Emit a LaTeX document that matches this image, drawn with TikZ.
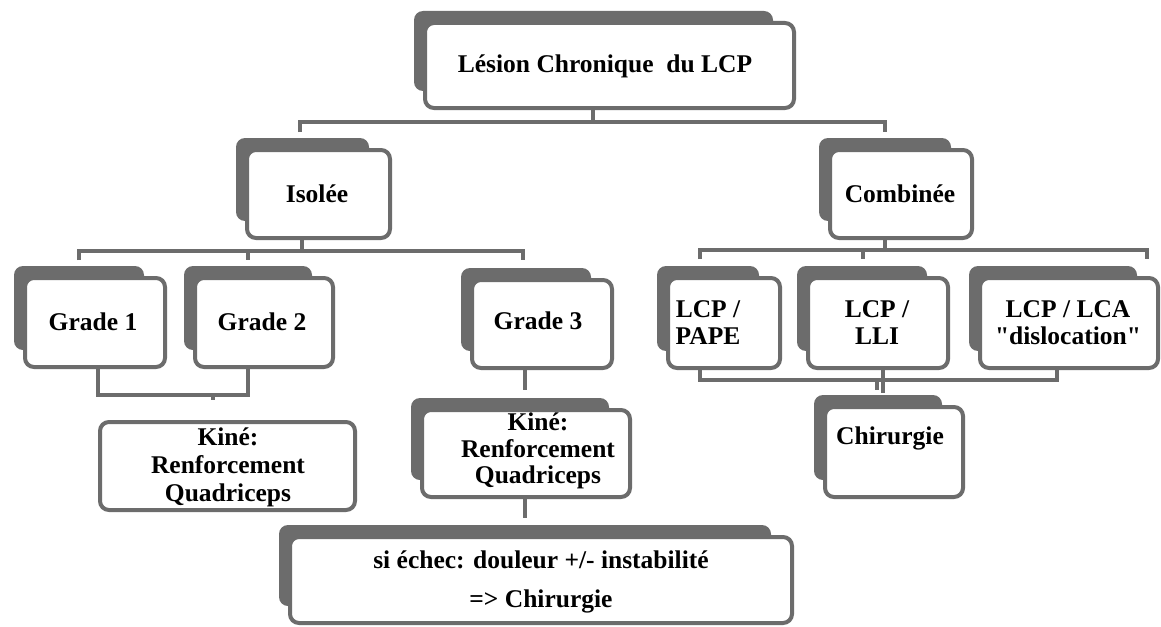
\documentclass[tikz,border=0pt]{standalone}
\usepackage{fontspec}
\setmainfont{Liberation Serif}[Ligatures=TeXOff]
\definecolor{bord}{RGB}{108,108,108}
\tikzset{
  frontbox/.style={draw=bord, line width=4pt, fill=white, rounded corners=9pt, inner sep=0pt, outer sep=0pt},
  backbox/.style={fill=bord, rounded corners=9pt},
  conn/.style={draw=bord, line width=4pt},
  lbl/.style={font=\bfseries\fontsize{25.5}{30}\selectfont, text=black, inner sep=0pt, anchor=base},
}
\newcommand{\mkbox}[5]{%
  \fill[backbox] (#2-11,#3-12) rectangle (#4-21,#5-17);
  \node[frontbox, minimum width={(#4-#2)*1pt}, minimum height={(#5-#3)*1pt}] (#1) at ({(#2+#4)/2},{(#3+#5)/2}) {};
}
\newcommand{\mkplain}[5]{%
  \node[frontbox, minimum width={(#4-#2)*1pt}, minimum height={(#5-#3)*1pt}] (#1) at ({(#2+#4)/2},{(#3+#5)/2}) {};
}
\begin{document}
\begin{tikzpicture}[x=1pt, y=-1pt]
\fill[white] (0,0) rectangle (1161,626);
\useasboundingbox (0,0) rectangle (1161,626);

% boxes
\mkbox{top}{425}{23}{794}{108}
\mkbox{iso}{247}{150}{390}{238}
\mkbox{comb}{830}{150}{972}{238}
\mkbox{gA}{25}{278}{165}{367}
\mkbox{gB}{195}{278}{333}{367}
\mkbox{gC}{472}{280}{612}{368}
\mkbox{pape}{668}{278}{780}{368}
\mkbox{lli}{808}{278}{948}{368}
\mkbox{lca}{980}{278}{1158}{368}
\mkplain{kineA}{100}{422}{355}{510}
\mkbox{kineB}{422}{410}{630}{497}
\mkbox{chir}{825}{407}{963}{497}
\mkbox{bot}{290}{537}{792}{623}

% connectors
\draw[conn] (593,0 |- top.south) -- (593,122);
\draw[conn] (300,132) -- (300,122) -- (885,122) -- (885,132);

\draw[conn] (302,0 |- iso.south) -- (302,251);
\draw[conn] (79,260) -- (79,251) -- (523,251) -- (523,260);
\draw[conn] (248,251) -- (248,260);

\draw[conn] (885,0 |- comb.south) -- (885,250);
\draw[conn] (700,259) -- (700,250) -- (1147,250) -- (1147,259);
\draw[conn] (863,250) -- (863,259);

\draw[conn] (98,0 |- gA.south) -- (98,395) -- (248,395) -- (248,0 |- gB.south);
\draw[conn] (213,395) -- (213,400);

\draw[conn] (525,0 |- gC.south) -- (525,390);
\draw[conn] (525,0 |- kineB.south) -- (525,518);

\draw[conn] (700,0 |- pape.south) -- (700,380) -- (1057,380) -- (1057,0 |- lca.south);
\draw[conn] (883,0 |- lli.south) -- (883,393);
\draw[conn] (877,380) -- (877,390);

% texts
\node[lbl] (topT) at (605,72) {Lésion Chronique\ \ du LCP};
\node[lbl] (isoT) at (317,202) {Isolée};
\node[lbl] (combT) at (900,202) {Combinée};
\node[lbl] (gAT) at (93,330) {Grade 1};
\node[lbl] (gBT) at (262,330) {Grade 2};
\node[lbl] (gCT) at (538,329) {Grade 3};
\node[lbl] (papeT1) at (708,317) {LCP /};
\node[lbl] (papeT2) at (708,344) {PAPE};
\node[lbl] (lliT1) at (877,317) {LCP /};
\node[lbl] (lliT2) at (877,344) {LLI};
\node[lbl] (lcaT1) at (1068,317) {LCP / LCA};
\node[lbl] (lcaT2) at (1068,344) {"dislocation"};
\node[lbl] (kineAT1) at (228,445) {Kiné:};
\node[lbl] (kineAT2) at (228,473) {Renforcement};
\node[lbl] (kineAT3) at (228,501) {Quadriceps};
\node[lbl] (kineBT1) at (538,430) {Kiné:};
\node[lbl] (kineBT2) at (538,457) {Renforcement};
\node[lbl] (kineBT3) at (538,483) {Quadriceps};
\node[lbl] (chirT) at (890,444) {Chirurgie};
\node[lbl] (botT1) at (541,568) {si échec: douleur +/- instabilité};
\node[lbl] (botT2) at (541,607) {=> Chirurgie};
\end{tikzpicture}
\end{document}
